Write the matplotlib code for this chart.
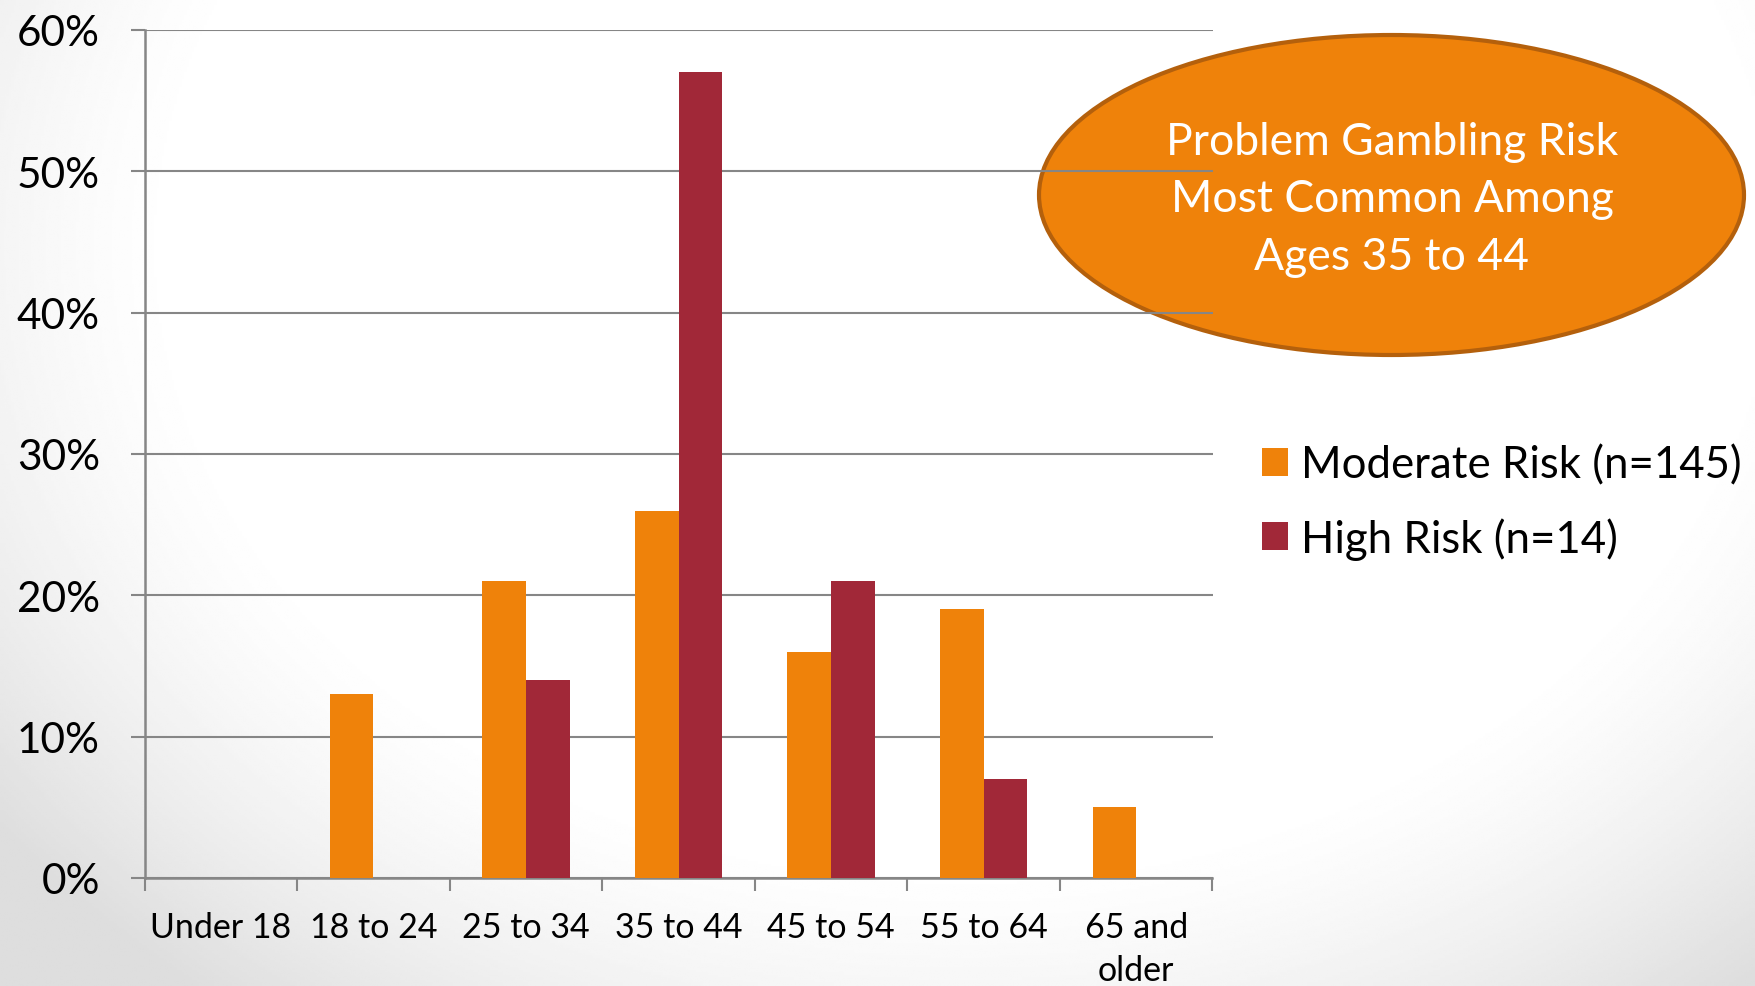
import numpy as np
import matplotlib
matplotlib.use("Agg")
import matplotlib.pyplot as plt
from matplotlib.patches import Ellipse
from matplotlib.ticker import FixedLocator, PercentFormatter

# Share of each risk group by age bracket (%)
age_groups = ["Under 18", "18 to 24", "25 to 34", "35 to 44", "45 to 54", "55 to 64", "65 and\nolder"]
moderate_risk = [0, 13, 21, 26, 16, 19, 5]
high_risk = [0, 0, 14, 57, 21, 7, 0]
series_labels = ["Moderate Risk (n=145)", "High Risk (n=14)"]
callout = "Problem Gambling Risk\nMost Common Among\nAges 35 to 44"

ORANGE = "#EF820A"
DARK_RED = "#A12838"
GRID = "#868686"

plt.rcParams["font.family"] = ["Lato", "DejaVu Sans"]

W, H = 1755, 987
fig = plt.figure(figsize=(W / 100, H / 100), dpi=100)

# soft slide background: white centre fading to light grey at the lower corners
bg = fig.add_axes([0, 0, 1, 1], zorder=-10)
yy, xx = np.mgrid[0:1:400j, 0:1:700j]
d = np.sqrt(((xx - 0.55) * 1.4) ** 2 + (yy - 0.25) ** 2)
shade = 1 - 0.13 * np.clip((d - 0.62) / 0.35, 0, 1) ** 1.4
bg.imshow(shade, cmap="gray", vmin=0, vmax=1, extent=[0, 1, 1, 0], aspect="auto", interpolation="bilinear")
bg.axis("off")

# callout ellipse sits behind the chart grid
ell = Ellipse((1391.5 / W, 1 - 196 / H), 705 / W, 320 / H, transform=fig.transFigure,
              facecolor=ORANGE, edgecolor="#B4600C", linewidth=3, zorder=-5)
fig.patches.append(ell)
fig.text(1392 / W, 1 - 200 / H, callout, color="white", fontsize=32, ha="center", va="center",
         linespacing=1.5, zorder=20)

ax = fig.add_axes([144.5 / W, 108 / H, 1068 / W, 848 / H])
ax.set_facecolor("none")

x = np.arange(len(age_groups))
w = 0.286
ax.bar(x - w / 2, moderate_risk, w, color=ORANGE, label=series_labels[0], zorder=3)
ax.bar(x + w / 2, high_risk, w, color=DARK_RED, label=series_labels[1], zorder=3)

ax.set_xlim(-0.5, len(age_groups) - 0.5)
ax.set_ylim(0, 60)
ax.set_yticks(np.arange(0, 61, 10))
ax.yaxis.set_major_formatter(PercentFormatter(decimals=0))
ax.grid(axis="y", color=GRID, linewidth=1.5, zorder=0)
ax.set_axisbelow(True)

for s in ["top", "right"]:
    ax.spines[s].set_visible(False)
for s in ["left", "bottom"]:
    ax.spines[s].set_color(GRID)
    ax.spines[s].set_linewidth(1.8)

ax.tick_params(axis="y", length=10, width=1.5, color=GRID, pad=22, labelsize=30.5)
ax.set_xticks(x)
ax.set_xticklabels(age_groups, linespacing=1.4)
ax.tick_params(axis="x", which="major", length=0, pad=24, labelsize=24.5)
ax.xaxis.set_minor_locator(FixedLocator(np.arange(-0.5, len(age_groups), 1)))
ax.tick_params(axis="x", which="minor", length=9, width=1.5, color=GRID)

ax.legend(loc="center left", bbox_to_anchor=(1261.5 / W, 1 - 503 / H), bbox_transform=fig.transFigure,
          frameon=False, fontsize=31.5, handlelength=0.6, handleheight=0.6, handletextpad=0.3,
          labelspacing=0.72, borderaxespad=0, borderpad=0)

fig.savefig("out.png", dpi=100)
